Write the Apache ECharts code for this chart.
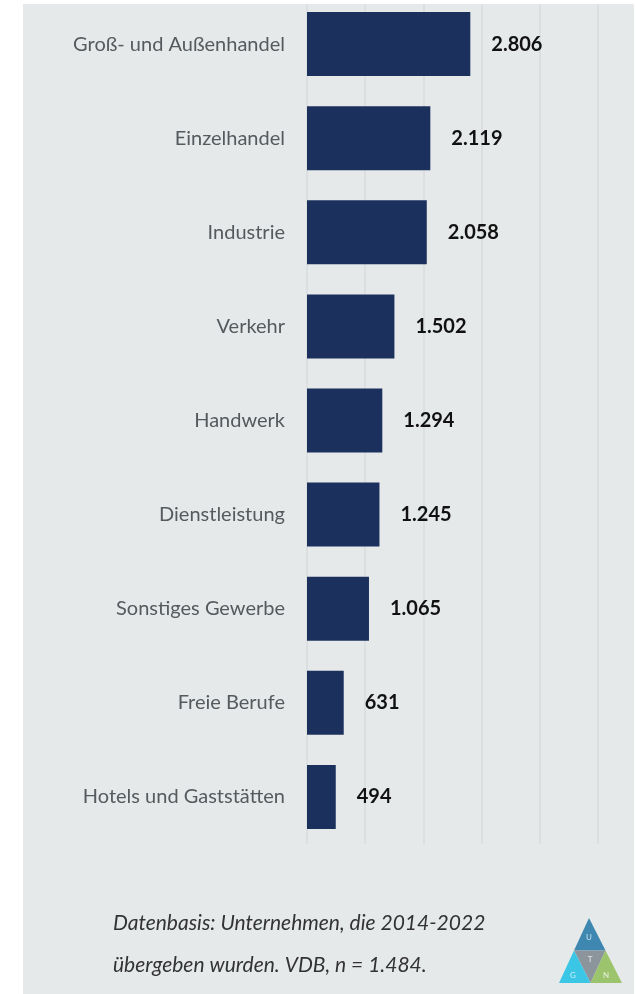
<!DOCTYPE html>
<html>
<head>
<meta charset="utf-8">
<script src="https://cdn.jsdelivr.net/npm/echarts@6/dist/echarts.min.js"></script>
<style>
  html, body { margin: 0; padding: 0; background: #ffffff; overflow: hidden; }
  /* chart sits 10px above the page so the first bar band can start above the top edge */
  #chart { position: absolute; left: 0; top: -10px; width: 636px; height: 1004px; }
</style>
</head>
<body>
<div id="chart"></div>
<script>
// Branchen (von oben nach unten)
var categories = [
  "Groß- und Außenhandel",
  "Einzelhandel",
  "Industrie",
  "Verkehr",
  "Handwerk",
  "Dienstleistung",
  "Sonstiges Gewerbe",
  "Freie Berufe",
  "Hotels und Gaststätten"
];
var values = [2806, 2119, 2058, 1502, 1294, 1245, 1065, 631, 494];
var footnoteLines = [
  "Datenbasis: Unternehmen, die 2014-2022",
  "übergeben wurden. VDB, n = 1.484."
];
var logoLetters = ["U", "T", "G", "N"];

var OFF = 10; // container offset

function fmtDe(n) {
  var s = String(n), out = "";
  while (s.length > 3) {
    out = "." + s.slice(-3) + out;
    s = s.slice(0, s.length - 3);
  }
  return s + out;
}

var chart = echarts.init(document.getElementById("chart"));

// logo: triangle split in four
var A = [589, 918 + OFF], BL = [559, 983 + OFF], BR = [622, 983 + OFF];
var ML = [(A[0] + BL[0]) / 2, (A[1] + BL[1]) / 2];
var MR = [(A[0] + BR[0]) / 2, (A[1] + BR[1]) / 2];
var MB = [(BL[0] + BR[0]) / 2, BL[1]];
function tri(pts, color) {
  return { type: "polygon", z: 10, shape: { points: pts }, style: { fill: color } };
}
function letter(t, x, y) {
  return {
    type: "text", z: 11, x: x, y: y + OFF,
    style: { text: t, fill: "rgba(255,255,255,0.75)", font: "8px Lato", align: "center", verticalAlign: "middle" }
  };
}

chart.setOption({
  animation: false,
  backgroundColor: "#ffffff",
  graphic: [
    { type: "rect", z: -10, silent: true, shape: { x: 23, y: 4 + OFF, width: 611, height: 990 }, style: { fill: "#e6e9ea" } },
    { type: "rect", z: 100, silent: true, shape: { x: 0, y: 0, width: 636, height: 4 + OFF }, style: { fill: "#ffffff" } },
    {
      type: "text", z: 10, x: 113, y: 923 + OFF,
      style: { text: footnoteLines[0], font: "italic 21px Lato", fill: "#333333", verticalAlign: "middle" }
    },
    {
      type: "text", z: 10, x: 113, y: 965 + OFF,
      style: { text: footnoteLines[1], font: "italic 21px Lato", fill: "#333333", verticalAlign: "middle" }
    },
    tri([A, ML, MR], "#3d87b0"),
    tri([ML, MR, MB], "#8c959c"),
    tri([ML, BL, MB], "#3cc6e6"),
    tri([MR, MB, BR], "#9cc46c"),
    letter(logoLetters[0], 589, 937),
    letter(logoLetters[1], 590, 959),
    letter(logoLetters[2], 573, 975),
    letter(logoLetters[3], 606, 975)
  ],
  grid: {
    left: 307,
    right: 38,
    top: 7,
    bottom: 150,
    containLabel: false
  },
  xAxis: {
    type: "value",
    min: 0,
    max: 5000,
    interval: 1000,
    axisLabel: { show: false },
    axisLine: { show: false },
    axisTick: { show: false },
    splitLine: { show: true, lineStyle: { color: "#d8dbdc", width: 1.5 } }
  },
  yAxis: {
    type: "category",
    inverse: true,
    data: categories,
    axisLine: { show: false },
    axisTick: { show: false },
    splitLine: { show: false },
    axisLabel: {
      margin: 22,
      color: "#555a5e",
      fontSize: 20,
      fontFamily: "Lato"
    }
  },
  series: [
    {
      type: "bar",
      data: values,
      barWidth: 64,
      itemStyle: { color: "#1b305c" },
      label: {
        show: true,
        position: "right",
        distance: 21,
        color: "#111111",
        fontSize: 20,
        fontWeight: "bold",
        fontFamily: "Lato",
        formatter: function (p) { return fmtDe(p.value); }
      }
    }
  ]
});
</script>
</body>
</html>
